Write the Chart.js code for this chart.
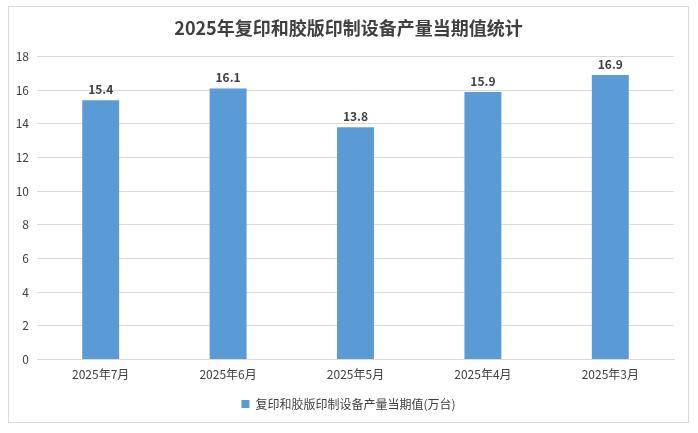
<!DOCTYPE html>
<html><head><meta charset="utf-8">
<script src="https://cdn.jsdelivr.net/npm/chart.js@4/dist/chart.umd.min.js"></script>
<style>html,body{margin:0;padding:0;background:#fff;}#wrap{width:698px;height:433px;}</style>
</head><body><div id="wrap"><canvas id="c" width="698" height="433"></canvas></div>
<script>
const categories = ['2025年7月','2025年6月','2025年5月','2025年4月','2025年3月'];
const values = [15.4, 16.1, 13.8, 15.9, 16.9];
const seriesName = '复印和胶版印制设备产量当期值(万台)';
const titleText = '2025年复印和胶版印制设备产量当期值统计';
const yTicks = [0,2,4,6,8,10,12,14,16,18];

const FONT = "'Noto Sans CJK SC', 'Liberation Sans', sans-serif";

const borderPlugin = {
  id: 'borderPlugin',
  beforeDraw(chart) {
    const ctx = chart.ctx;
    ctx.save();
    ctx.fillStyle = '#fff';
    ctx.fillRect(0,0,chart.width,chart.height);
    ctx.strokeStyle = '#d9d9d9';
    ctx.lineWidth = 1;
    ctx.strokeRect(8.5, 6.5, 680, 416);
    ctx.restore();
  }
};
const labelPlugin = {
  id: 'labelPlugin',
  afterDatasetsDraw(chart) {
    const ctx = chart.ctx;
    const meta = chart.getDatasetMeta(0);
    ctx.save();
    ctx.font = "bold 12px " + FONT;
    ctx.fillStyle = '#404040';
    ctx.textAlign = 'center';
    ctx.textBaseline = 'bottom';
    meta.data.forEach((bar, i) => {
      ctx.fillText(values[i].toFixed(1), bar.x, bar.y - 5);
    });
    ctx.restore();
  }
};

new Chart(document.getElementById('c'), {
  type: 'bar',
  data: {
    labels: categories,
    datasets: [{
      label: seriesName,
      data: values,
      backgroundColor: '#5b9bd5',
      borderWidth: 0,
      barPercentage: 0.29,
      categoryPercentage: 1.0
    }]
  },
  options: {
    responsive: false,
    animation: false,
    devicePixelRatio: 1,
    layout: { padding: { left: 15, right: 16, top: 13, bottom: 13 } },
    plugins: {
      title: {
        display: true,
        text: titleText,
        color: '#404040',
        font: { family: FONT, size: 18, weight: 'bold' },
        padding: { top: 4, bottom: 18 }
      },
      legend: {
        position: 'bottom',
        labels: {
          color: '#404040',
          font: { family: FONT, size: 12 },
          boxWidth: 8, boxHeight: 8,
          padding: 8
        }
      },
      tooltip: { enabled: false }
    },
    scales: {
      x: {
        grid: { display: false, drawTicks: false },
        border: { display: true, color: '#d9d9d9' },
        ticks: { color: '#404040', font: { family: FONT, size: 12 }, padding: 8, maxRotation: 0 }
      },
      y: {
        min: 0, max: 18,
        afterBuildTicks(axis) { axis.ticks = yTicks.map(v => ({ value: v })); },
        afterFit(axis) { axis.width = 22; },
        grid: { color: '#d9d9d9', drawTicks: false },
        border: { display: false },
        ticks: { color: '#404040', font: { family: FONT, size: 12 }, padding: 8 }
      },
      yRight: {
        position: 'right',
        min: 0, max: 18,
        grid: { display: false, drawTicks: false },
        border: { display: false },
        ticks: { display: false },
        afterFit(axis) { axis.width = 8; }
      }
    }
  },
  plugins: [borderPlugin, labelPlugin]
});
</script>
</body></html>
